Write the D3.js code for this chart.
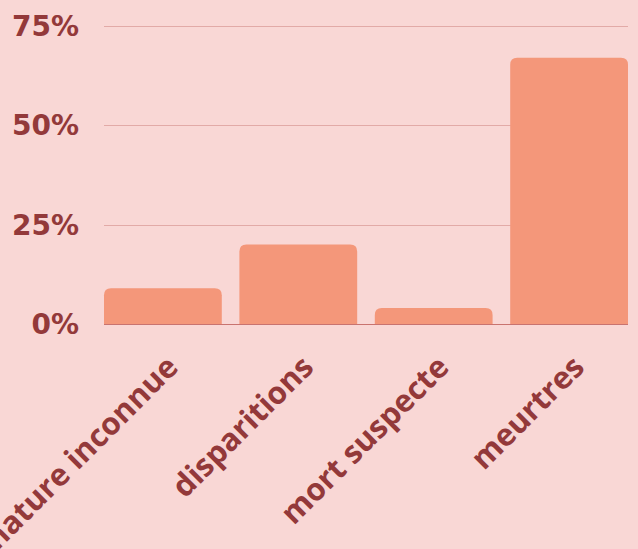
<!DOCTYPE html>
<html>
<head>
<meta charset="utf-8">
<script src="https://cdn.jsdelivr.net/npm/d3@7"></script>
<style>
  html, body { margin: 0; padding: 0; background: #f9d7d5; }
  svg { display: block; }
</style>
</head>
<body>
<div id="chart-area"></div>
<script>
// data
const categories = ["nature inconnue", "disparitions", "mort suspecte", "meurtres"];
const shares = [9, 20, 4, 67];
const yTicks = [0, 25, 50, 75];

const W = 638, H = 549;
const margin = { top: 26, right: 10, bottom: 225, left: 104 };
const width = W - margin.left - margin.right;
const height = H - margin.top - margin.bottom;

const textColor = "#93393a";

const svg = d3.select("#chart-area")
  .append("svg")
    .attr("width", W)
    .attr("height", H);

svg.append("rect")
    .attr("width", W)
    .attr("height", H)
    .attr("fill", "#f9d7d5");

const chart = svg.append("g")
    .attr("transform", `translate(${margin.left},${margin.top})`);

const x = d3.scaleBand()
  .domain(categories)
  .range([0, width])
  .paddingInner(0.13)
  .paddingOuter(0);

const y = d3.scaleLinear()
  .domain([0, 75])
  .range([height, 0]);

// gridlines
chart.selectAll(".grid")
  .data(yTicks.filter(d => d > 0))
  .enter().append("line")
    .attr("class", "grid")
    .attr("x1", 0)
    .attr("x2", width)
    .attr("y1", d => Math.round(y(d)) + 0.5)
    .attr("y2", d => Math.round(y(d)) + 0.5)
    .attr("stroke", "#e2aaa7")
    .attr("stroke-width", 1);

// y tick labels
chart.selectAll(".ylab")
  .data(yTicks)
  .enter().append("text")
    .attr("class", "ylab")
    .attr("x", -25)
    .attr("y", d => y(d) + 10)
    .attr("text-anchor", "end")
    .attr("fill", textColor)
    .style("font-family", "'DejaVu Sans', sans-serif")
    .style("font-weight", "bold")
    .style("font-size", "28px")
    .text(d => d + "%");

// bars with rounded top corners
const r = 7;
function barPath(d, i) {
  const x0 = x(categories[i]), w = x.bandwidth();
  const y0 = y(d), y1 = y(0);
  const rr = Math.min(r, (y1 - y0));
  return `M${x0},${y1}V${y0 + rr}Q${x0},${y0} ${x0 + rr},${y0}` +
         `H${x0 + w - rr}Q${x0 + w},${y0} ${x0 + w},${y0 + rr}V${y1}Z`;
}

chart.selectAll(".bar")
  .data(shares)
  .enter().append("path")
    .attr("class", "bar")
    .attr("d", barPath)
    .attr("fill", "#f4977a");

// baseline
chart.append("line")
    .attr("x1", 0)
    .attr("x2", width)
    .attr("y1", y(0) + 0.5)
    .attr("y2", y(0) + 0.5)
    .attr("stroke", "#c9736f")
    .attr("stroke-width", 1);

// x labels, rotated
chart.selectAll(".xlab")
  .data(categories)
  .enter().append("text")
    .attr("class", "xlab")
    .attr("text-anchor", "end")
    .attr("transform", d => `translate(${x(d) + x.bandwidth() / 2 + 17},${y(0) + 45}) rotate(-45)`)
    .attr("fill", textColor)
    .style("font-family", "'Open Sans', sans-serif")
    .style("font-weight", "bold")
    .style("font-size", "31px")
    .text(d => d);
</script>
</body>
</html>
